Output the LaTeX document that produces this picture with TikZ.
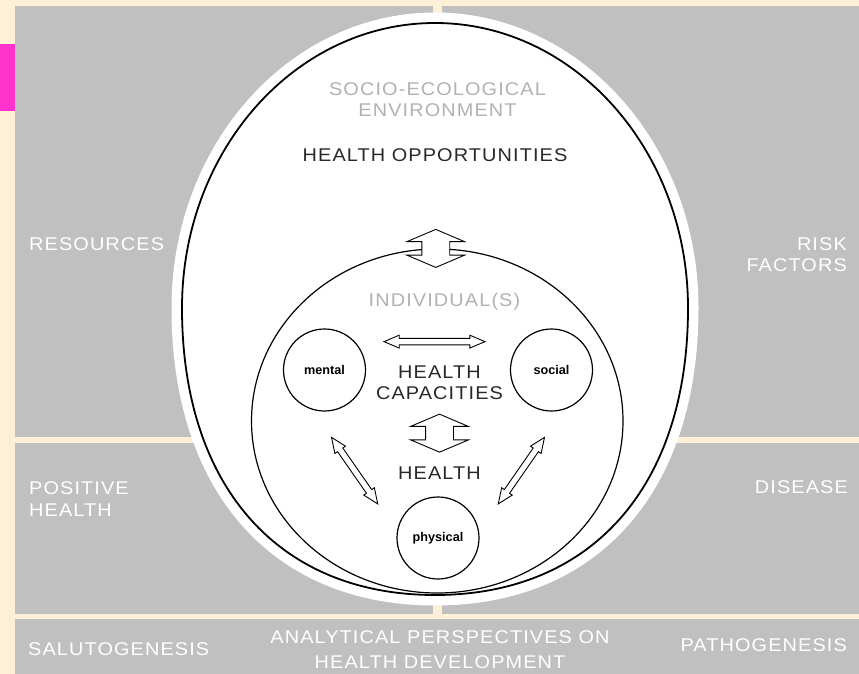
\documentclass[tikz,border=0pt]{standalone}
\usepackage{fontspec}
\setmainfont{Liberation Sans}
\newfontfamily\capsfont[LetterSpace=6,FakeStretch=1.08]{Liberation Sans}
\usetikzlibrary{shapes.geometric,shapes.arrows,calc}
\definecolor{sand}{RGB}{253,240,214}
\definecolor{panel}{RGB}{192,192,192}
\definecolor{tab}{RGB}{255,51,204}
\definecolor{faint}{RGB}{178,178,178}
\definecolor{ink}{RGB}{40,40,40}
\tikzset{
  caps/.style={font=\capsfont\fontsize{18.5}{21.5}\selectfont,inner sep=0pt},
  paneltext/.style={caps,text=white},
  dimtext/.style={caps,text=faint,align=center},
  darktext/.style={caps,text=ink,align=center},
  dimension/.style={circle,draw,line width=1.2bp,minimum size=82bp,inner sep=0pt,
    fill=white,font=\bfseries\fontsize{12.7}{14}\selectfont},
  thinarrow/.style={double arrow,draw,fill=white,line width=0.9bp,
    inner xsep=0pt,inner ysep=2.75bp,
    minimum height=81bp,minimum width=12bp,double arrow head extend=3.25bp,
    double arrow tip angle=46},
  blockarrow/.style={double arrow,draw,fill=white,line width=0.9bp,
    inner xsep=0pt,inner ysep=13.5bp,
    minimum height=38bp,minimum width=57bp,double arrow head extend=15bp,
    double arrow tip angle=134}
}
\begin{document}
\begin{tikzpicture}[x=1bp,y=-1bp]
\useasboundingbox (0,0) rectangle (859,674);
\fill[sand] (0,0) rectangle (859,674);
\fill[tab] (0,44) rectangle (15,111);
\fill[panel] (15,6) rectangle (433,437);
\fill[panel] (442,6) rectangle (859,437);
\fill[panel] (15,443) rectangle (433,614);
\fill[panel] (442,443) rectangle (859,614);
\fill[panel] (15,619) rectangle (859,674);

\draw[line width=1.8bp,fill=white,preaction={draw=white,line width=21bp}]
  (435,23) .. controls (295.3,23) and (182,150.6) .. (182,308)
  .. controls (182,486) and (278,595) .. (435,595)
  .. controls (592,595) and (688,486) .. (688,308)
  .. controls (688,150.6) and (574.7,23) .. (435,23) -- cycle;

\node[ellipse,draw,line width=1.2bp,minimum width=371.5bp,minimum height=344bp] (individuals) at (437.25,421) {};

\node[paneltext,anchor=west] (resources) at (29,244) {RESOURCES};
\node[paneltext,anchor=east,align=right] (risk) at (847,254.5) {RISK\\FACTORS};
\node[paneltext,anchor=west,align=left] (positive) at (29,499) {POSITIVE\\HEALTH};
\node[paneltext,anchor=east] (disease) at (848,487) {DISEASE};
\node[paneltext,anchor=west] (saluto) at (28,649) {SALUTOGENESIS};
\node[paneltext,anchor=east] (patho) at (847,645) {PATHOGENESIS};
\node[paneltext,align=center] (perspectives) at (440,649.5) {ANALYTICAL PERSPECTIVES ON\\[3.5bp]HEALTH DEVELOPMENT};

\node[dimtext] (environment) at (437.5,99.5) {SOCIO-ECOLOGICAL\\ENVIRONMENT};
\node[darktext] (opportunities) at (435,155) {HEALTH OPPORTUNITIES};
\node[dimtext] (individual) at (444.5,302) {INDIVIDUAL(S)};
\node[darktext] (capacities) at (439.5,382.5) {HEALTH\\CAPACITIES};
\node[darktext] (health) at (439.5,473) {HEALTH};

\node[dimension] (mental) at (324.5,370) {mental};
\node[dimension] (social) at (551.5,370) {social};
\node[dimension] (physical) at (438,538) {physical};

\node[blockarrow,rotate=90,yshift=1.5bp] (exchange) at (individuals.north) {};
\path (capacities.south) -- (health.north) node[midway,sloped,blockarrow] (uptake) {};
\path (mental.43) -- (social.137) node[midway,thinarrow,minimum height=101bp,xshift=-3.5bp] (ms) {};
\path (mental.253) -- (physical.171) node[midway,sloped,thinarrow] (mp) {};
\path (social.287) -- (physical.9) node[midway,sloped,thinarrow] (sp) {};
\end{tikzpicture}
\end{document}
